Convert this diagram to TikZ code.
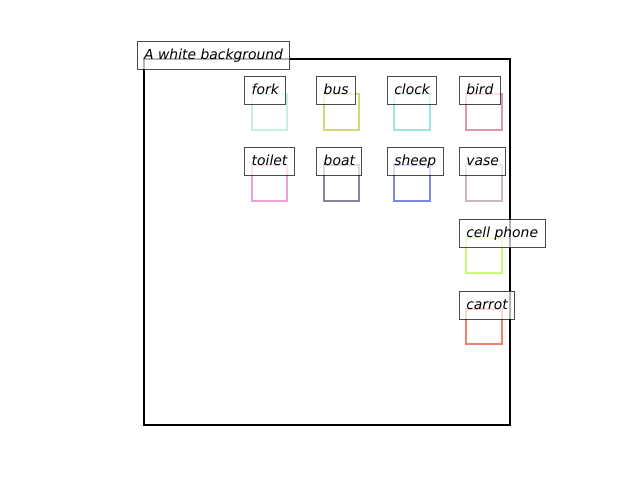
\documentclass[tikz,border=0pt]{standalone}
\usepackage{fontspec}
\setmainfont{DejaVu Sans}
\begin{document}
\begin{tikzpicture}[x=0.72pt,y=-0.72pt,
  lbl/.style={draw=black, draw opacity=0.7, fill=white, fill opacity=0.7, text opacity=1,
    font=\fontsize{10pt}{12pt}\selectfont\itshape, inner xsep=5pt, inner ysep=5pt,
    text height=7.96pt, text depth=2.2pt, line width=0.72pt, anchor=text},
  sq/.style={draw=#1, line width=1.44pt, minimum size=25.4pt, inner sep=0pt, outer sep=0pt, anchor=north west},
  frame/.style={draw=black, line width=1.44pt, minimum size=263.52pt, inner sep=0pt, outer sep=0pt, anchor=north west}]
\useasboundingbox (0,0) rectangle (640,480);
\definecolor{cfork}{HTML}{C5F2DC}
\definecolor{cbus}{HTML}{D4D67A}
\definecolor{cclock}{HTML}{A0E4E0}
\definecolor{cbird}{HTML}{DC98A6}
\definecolor{ctoilet}{HTML}{E8A4DC}
\definecolor{cboat}{HTML}{84849C}
\definecolor{csheep}{HTML}{8088E4}
\definecolor{cvase}{HTML}{C8B8BC}
\definecolor{cphone}{HTML}{C8FA78}
\definecolor{ccarrot}{HTML}{F08270}
\node[frame] (bg) at (144.2,59.2) {};
\node[sq=cfork] (sfork) at (251.7,94.3) {};
\node[sq=cbus] (sbus) at (323.7,94.3) {};
\node[sq=cclock] (sclock) at (394.3,94.3) {};
\node[sq=cbird] (sbird) at (466.3,94.3) {};
\node[sq=ctoilet] (stoilet) at (251.7,165.3) {};
\node[sq=cboat] (sboat) at (323.7,165.3) {};
\node[sq=csheep] (ssheep) at (394.3,165.3) {};
\node[sq=cvase] (svase) at (466.3,165.3) {};
\node[sq=cphone] (sphone) at (466.3,237.7) {};
\node[sq=ccarrot] (scarrot) at (466.3,309) {};
\node[lbl] (lbg) at (bg.north west) {A white background};
\node[lbl] (lfork) at (sfork.north west) {fork};
\node[lbl] (lbus) at (sbus.north west) {bus};
\node[lbl] (lclock) at (sclock.north west) {clock};
\node[lbl] (lbird) at (sbird.north west) {bird};
\node[lbl] (ltoilet) at (stoilet.north west) {toilet};
\node[lbl] (lboat) at (sboat.north west) {boat};
\node[lbl] (lsheep) at (ssheep.north west) {sheep};
\node[lbl] (lvase) at (svase.north west) {vase};
\node[lbl] (lphone) at (sphone.north west) {cell phone};
\node[lbl] (lcarrot) at (scarrot.north west) {carrot};
\end{tikzpicture}
\end{document}
